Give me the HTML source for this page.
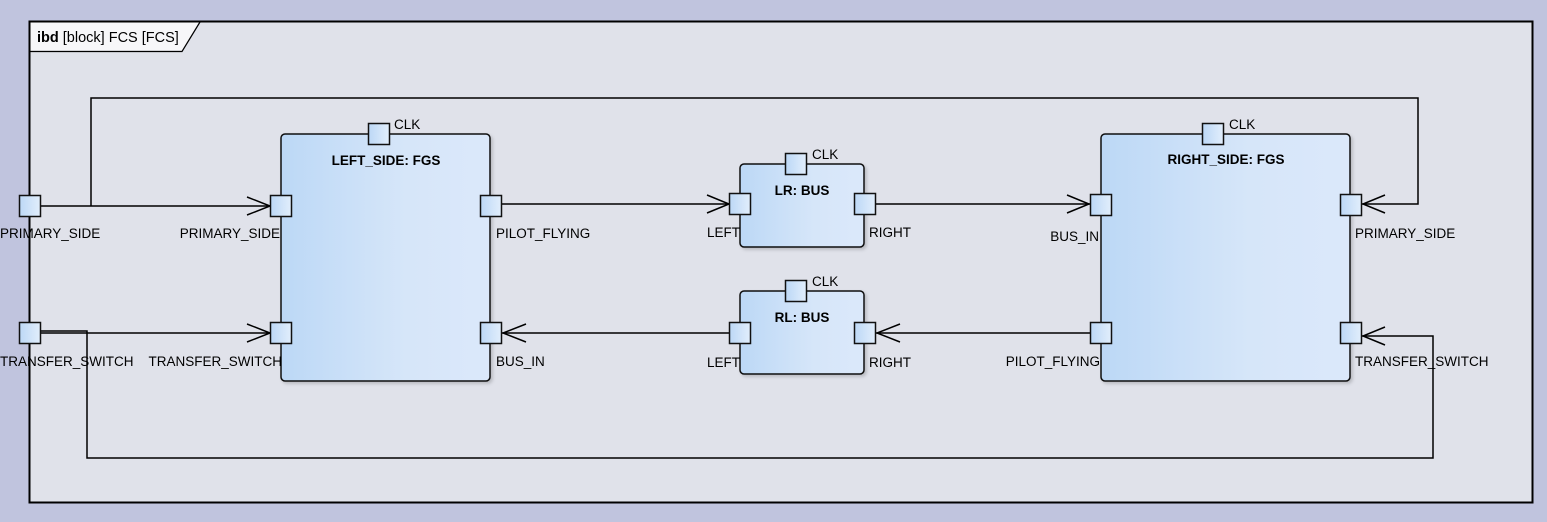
<!DOCTYPE html>
<html><head><meta charset="utf-8"><style>
html,body{margin:0;padding:0;background:#c0c4de;}
svg{display:block;}
text{font-family:"Liberation Sans",sans-serif;font-size:13.5px;fill:#000;}
.b{font-weight:bold;}
</style></head><body>
<svg width="1547" height="522" viewBox="0 0 1547 522" xmlns="http://www.w3.org/2000/svg">
<defs>
<linearGradient id="g" x1="0" x2="1" y1="0" y2="0">
<stop offset="0" stop-color="#bcd8f6"/><stop offset="0.6" stop-color="#d6e6f9"/><stop offset="1" stop-color="#dbe8fa"/>
</linearGradient>
<linearGradient id="p" x1="0" x2="1" y1="0" y2="0">
<stop offset="0" stop-color="#bcd8f6"/><stop offset="1" stop-color="#e2eefc"/>
</linearGradient>
<filter id="s" x="-5%" y="-5%" width="115%" height="115%"><feDropShadow dx="2" dy="2" stdDeviation="1.5" flood-color="#000" flood-opacity="0.18"/></filter>
</defs>
<rect x="0" y="0" width="1547" height="522" fill="#c0c4de"/>
<rect x="29.5" y="21.5" width="1503" height="481" fill="#e0e2ea" stroke="#000" stroke-width="2"/>
<path d="M30.5 22.5 H199 L182 50.5 H30.5 Z" fill="#f7f7f9"/>
<path d="M29.5 51.5 H182 L200 22" fill="none" stroke="#000" stroke-width="1.2"/>
<text x="37" y="42" style="font-size:14.5px"><tspan class="b">ibd</tspan> [block] FCS [FCS]</text>

<g stroke="#000" stroke-width="1.5" fill="none">
<polyline points="40,206 271,206"/>
<polyline points="91,206 91,98 1418,98 1418,204 1362,204"/>
<polyline points="40,333 271,333"/>
<polyline points="40,331 87,331 87,458 1433,458 1433,336 1362,336"/>
<polyline points="502,204 730,204"/>
<polyline points="876,204 1090,204"/>
<polyline points="730,333 502,333"/>
<polyline points="1090,333 876,333"/>
<polyline points="247,197 270,206 247,215"/>
<polyline points="247,324 270,333 247,342"/>
<polyline points="707,195 729,204 707,213"/>
<polyline points="1067,195 1089,204 1067,213"/>
<polyline points="526,324 503,333 526,342"/>
<polyline points="900,324 877,333 900,342"/>
<polyline points="1385,195 1363,204 1385,213"/>
<polyline points="1385,327 1363,336 1385,345"/>
</g>

<g stroke="#111" stroke-width="1.5" fill="url(#g)" filter="url(#s)">
<rect x="281" y="134" width="209" height="247" rx="4"/>
<rect x="740" y="164" width="124" height="83" rx="4"/>
<rect x="740" y="291" width="124" height="83" rx="4"/>
<rect x="1101" y="134" width="249" height="247" rx="4"/>
</g>
<g stroke="#111" stroke-width="1.5" fill="url(#p)">
<rect x="19.5" y="195.5" width="21" height="21"/>
<rect x="19.5" y="322.5" width="21" height="21"/>
<rect x="270.5" y="195.5" width="21" height="21"/>
<rect x="270.5" y="322.5" width="21" height="21"/>
<rect x="368.5" y="123.5" width="21" height="21"/>
<rect x="480.5" y="195.5" width="21" height="21"/>
<rect x="480.5" y="322.5" width="21" height="21"/>
<rect x="729.5" y="193.5" width="21" height="21"/>
<rect x="854.5" y="193.5" width="21" height="21"/>
<rect x="785.5" y="153.5" width="21" height="21"/>
<rect x="729.5" y="322.5" width="21" height="21"/>
<rect x="854.5" y="322.5" width="21" height="21"/>
<rect x="785.5" y="280.5" width="21" height="21"/>
<rect x="1090.5" y="194.5" width="21" height="21"/>
<rect x="1090.5" y="322.5" width="21" height="21"/>
<rect x="1340.5" y="194.5" width="21" height="21"/>
<rect x="1340.5" y="322.5" width="21" height="21"/>
<rect x="1202.5" y="123.5" width="21" height="21"/>
</g>

<text class="b" x="386" y="165" text-anchor="middle">LEFT_SIDE: FGS</text>
<text class="b" x="802" y="195" text-anchor="middle">LR: BUS</text>
<text class="b" x="802" y="322" text-anchor="middle">RL: BUS</text>
<text class="b" x="1226" y="164" text-anchor="middle">RIGHT_SIDE: FGS</text>

<text x="394" y="129">CLK</text>
<text x="812" y="159">CLK</text>
<text x="812" y="286">CLK</text>
<text x="1229" y="129">CLK</text>

<text x="0" y="238">PRIMARY_SIDE</text>
<text x="0" y="366">TRANSFER_SWITCH</text>
<text x="280" y="238" text-anchor="end">PRIMARY_SIDE</text>
<text x="282" y="366" text-anchor="end">TRANSFER_SWITCH</text>
<text x="496" y="238">PILOT_FLYING</text>
<text x="496" y="366">BUS_IN</text>
<text x="740" y="237" text-anchor="end">LEFT</text>
<text x="740" y="367" text-anchor="end">LEFT</text>
<text x="869" y="237">RIGHT</text>
<text x="869" y="367">RIGHT</text>
<text x="1099" y="241" text-anchor="end">BUS_IN</text>
<text x="1100" y="366" text-anchor="end">PILOT_FLYING</text>
<text x="1355" y="238">PRIMARY_SIDE</text>
<text x="1355" y="366">TRANSFER_SWITCH</text>
</svg>
</body></html>
